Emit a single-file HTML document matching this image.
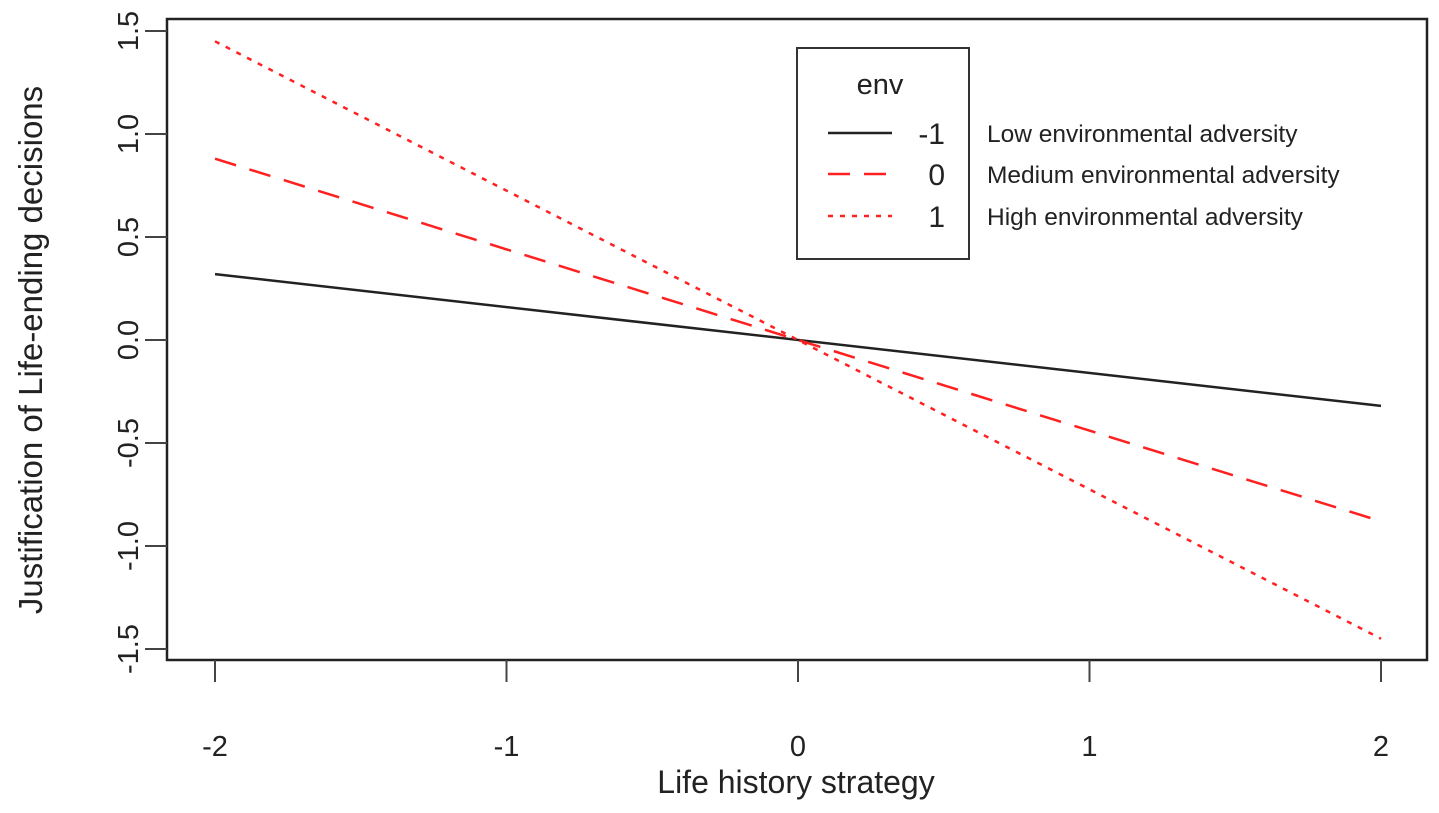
<!DOCTYPE html>
<html><head><meta charset="utf-8"><style>
body{margin:0;background:#fff;}
svg text{font-family:"Liberation Sans",Arial,sans-serif;fill:#222;}
</style></head><body>
<svg width="1439" height="808" xmlns="http://www.w3.org/2000/svg">
<g id="plot"></g>
</svg>
<script>
const xTicks=[-2,-1,0,1,2];
const yTicks=[-1.5,-1.0,-0.5,0.0,0.5,1.0,1.5];
const yTickLabels=["-1.5","-1.0","-0.5","0.0","0.5","1.0","1.5"];
const seriesNames=["-1","0","1"];
const seriesDesc=["Low environmental adversity","Medium environmental adversity","High environmental adversity"];
const xStart=[-2,-2,-2];
const xEnd=[2,2,2];
const yStartVals=[0.32,0.88,1.45];
const yEndVals=[-0.32,-0.88,-1.45];
const colors=["#222","#ff2020","#ff2020"];
const dashes=["","22,14","5,7"];

const NS="http://www.w3.org/2000/svg";
const g=document.getElementById('plot');
const sx=v=>215+(v+2)*(1381-215)/4;
const sy=v=>340-v*206;
function el(t,a,txt){const e=document.createElementNS(NS,t);for(const k in a)e.setAttribute(k,a[k]);if(txt!==undefined)e.textContent=txt;g.appendChild(e);return e;}

let box=el('rect',{x:167,y:19,width:1260,height:641,fill:'none',stroke:'#222','stroke-width':2.5});



xTicks.forEach(v=>{
  let t=el('line',{x1:sx(v),x2:sx(v),y1:660,y2:682,stroke:'#444','stroke-width':2});
  
  
  let l=el('text',{x:sx(v),y:756,'font-size':29,'text-anchor':'middle'},String(v));
  
  
});
yTicks.forEach((v,i)=>{
  let t=el('line',{x1:145,x2:167,y1:sy(v),y2:sy(v),stroke:'#444','stroke-width':2});
  
  
  let l=el('text',{x:0,y:0,'font-size':29,'text-anchor':'middle',transform:`translate(138,${sy(v)}) rotate(-90)`},yTickLabels[i]);
  
  
});
let xt=el('text',{x:796,y:793,'font-size':32,'text-anchor':'middle'},'Life history strategy');


let yt=el('text',{x:0,y:0,'font-size':33,'text-anchor':'middle',transform:'translate(42,350) rotate(-90)'},'Justification of Life-ending decisions');



seriesNames.forEach((n,i)=>{
  let ln=el('line',{x1:sx(xStart[i]),y1:sy(yStartVals[i]),x2:sx(xEnd[i]),y2:sy(yEndVals[i]),stroke:colors[i],'stroke-width':2.5,'stroke-dasharray':dashes[i]});
  
  
});

let lb=el('rect',{x:797,y:48,width:172,height:211,fill:'#fff',stroke:'#333','stroke-width':2});


let lt=el('text',{x:880,y:94,'font-size':29,'text-anchor':'middle'},'env');


const ly=[133,174,216];
seriesNames.forEach((n,i)=>{
  let s=el('line',{x1:828,x2:892,y1:ly[i],y2:ly[i],stroke:colors[i],'stroke-width':2.5,'stroke-dasharray':dashes[i]});
  
  
  let t=el('text',{x:945,y:ly[i]+11,'font-size':30,'text-anchor':'end'},n);
  
  
  let d=el('text',{x:987,y:ly[i]+9,'font-size':24.5},seriesDesc[i]);
  
  
});
</script>
</body></html>
